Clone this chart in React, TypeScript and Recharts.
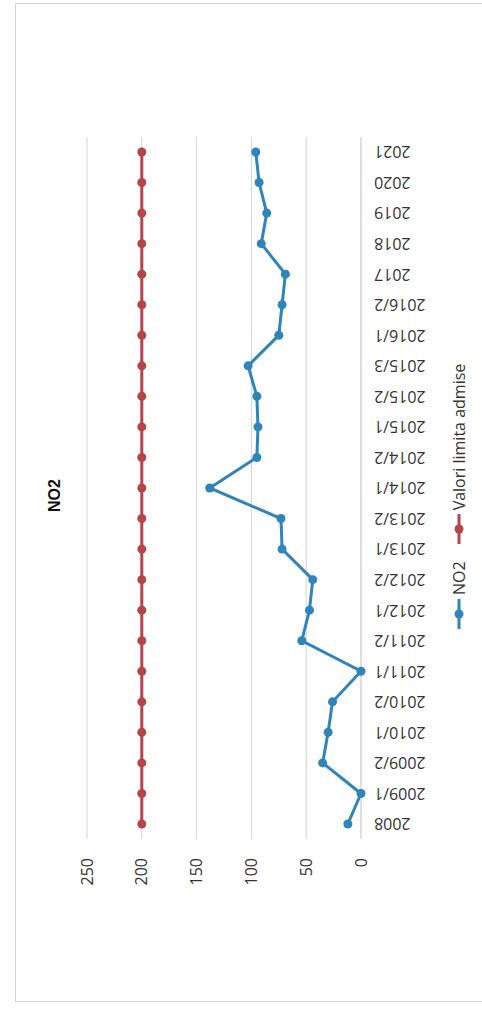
import React from "react"
import { LineChart, Line, XAxis, YAxis, CartesianGrid, Legend } from "recharts"

const categories = [
  "2008", "2009/1", "2009/2", "2010/1", "2010/2", "2011/1", "2011/2", "2012/1",
  "2012/2", "2013/1", "2013/2", "2014/1", "2014/2", "2015/1", "2015/2", "2015/3",
  "2016/1", "2016/2", "2017", "2018", "2019", "2020", "2021",
]
const no2Values = [12, 0, 35, 30, 26, 0, 54, 47, 44, 72, 73, 138, 95, 94, 95, 103, 75, 72, 69, 91, 86, 93, 96]
const limitValues = [200, 200, 200, 200, 200, 200, 200, 200, 200, 200, 200, 200, 200, 200, 200, 200, 200, 200, 200, 200, 200, 200, 200]
const valueTicks = [0, 50, 100, 150, 200, 250]

const series = [
  { key: "no2", name: "NO2", color: "#2f84b8" },
  { key: "limit", name: "Valori limita admise", color: "#b5444b" },
]

const data = categories.map((cat, i) => ({ cat, no2: no2Values[i], limit: limitValues[i] }))

const W = 999
const H = 480
const FONT = "'Open Sans', sans-serif"

// category labels are turned a quarter, like Excel's 270° text
function CatTick(props: any) {
  const { x, y, payload } = props
  return (
    <text
      x={x}
      y={y}
      transform={`rotate(-90 ${x} ${y})`}
      textAnchor="end"
      dy="0.35em"
      fontSize={16}
      fontFamily={FONT}
      fill="#333"
    >
      {payload.value}
    </text>
  )
}

function LegendBox() {
  return (
    <div style={{ display: "flex", alignItems: "center", fontFamily: FONT, fontSize: 16, color: "#333" }}>
      {series.map((s) => (
        <div key={s.key} style={{ display: "flex", alignItems: "center", marginRight: 15 }}>
          <svg width={34} height={12} style={{ marginRight: 2 }}>
            <line x1={2} y1={6} x2={32} y2={6} stroke={s.color} strokeWidth={3} />
            <circle cx={17} cy={6} r={4.5} fill={s.color} />
          </svg>
          <span>{s.name}</span>
        </div>
      ))}
    </div>
  )
}

export default function App() {
  return (
    <div style={{ position: "fixed", left: 0, top: 0, width: 482, height: 1010, overflow: "hidden", background: "#fff" }}>
      {/* the whole chart is photographed turned a quarter to the left */}
      <div
        style={{
          position: "absolute",
          left: 15,
          top: 1002,
          width: W,
          height: H,
          transform: "rotate(-90deg)",
          transformOrigin: "0 0",
          border: "1px solid #d4d4d8",
          boxSizing: "border-box",
        }}
      >
        <div
          style={{
            position: "absolute",
            left: 6,
            top: 29,
            width: W,
            textAlign: "center",
            fontFamily: "'Liberation Sans', Arial, sans-serif",
            fontWeight: "bold",
            fontSize: 16,
            lineHeight: "20px",
            color: "#111",
          }}
        >
          NO2
        </div>
        <LineChart width={W - 2} height={H - 2} data={data} margin={{ top: 71, right: 133, bottom: 33, left: 122 }}>
          <CartesianGrid vertical={false} stroke="#d3d3dc" strokeWidth={1} />
          <XAxis
            dataKey="cat"
            interval={0}
            padding={{ left: 15, right: 15 }}
            height={100}
            tickSize={0}
            tickMargin={13}
            axisLine={{ stroke: "#d3d3dc" }}
            tickLine={false}
            tick={<CatTick />}
          />
          <YAxis
            domain={[0, 250]}
            ticks={valueTicks}
            width={40}
            tickSize={0}
            tickMargin={19}
            axisLine={false}
            tickLine={false}
            tick={{ fontSize: 16, fontFamily: FONT, fill: "#333" }}
          />
          <Legend
            verticalAlign="middle"
            content={() => <LegendBox />}
            wrapperStyle={{ position: "absolute", left: 370, top: 432, width: "auto" }}
          />
          {series.map((s) => (
            <Line
              key={s.key}
              dataKey={s.key}
              name={s.name}
              type="linear"
              stroke={s.color}
              strokeWidth={3}
              dot={{ r: 4.5, fill: s.color, stroke: s.color, strokeWidth: 0 }}
              activeDot={false}
              isAnimationActive={false}
            />
          ))}
        </LineChart>
      </div>
    </div>
  )
}
